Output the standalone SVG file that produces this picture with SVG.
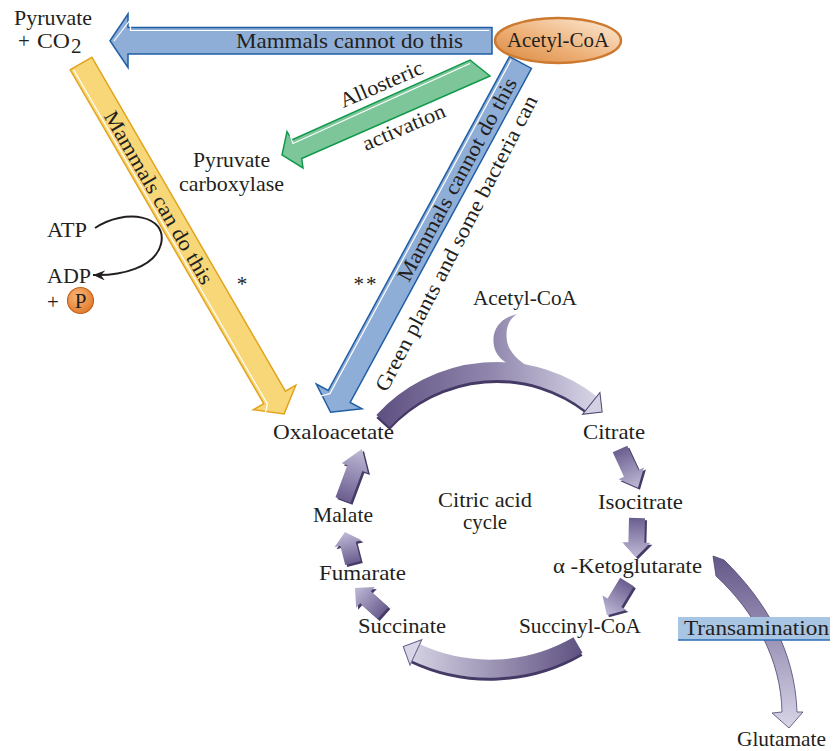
<svg xmlns="http://www.w3.org/2000/svg" width="836" height="751" viewBox="0 0 836 751">
<defs>
<style>
text{font-family:"Liberation Serif","Times New Roman",serif;font-size:21px;fill:#231f20}
.bl{fill:#8eaed7;stroke:#1f5ea5;stroke-width:1.5}
.ye{fill:#f8d779;stroke:#e2a41f;stroke-width:1.5}
.gr{fill:#7dc69a;stroke:#119a4c;stroke-width:1.5}
.hl{fill:none;stroke:#fff;stroke-width:1.2}
.sa{fill:url(#gs)}
.sd{fill:#463b66}
.arc{fill:none;stroke-width:18}
.sh{fill:none;stroke:#453a66;stroke-width:18}
</style>
<linearGradient id="gTop" gradientUnits="userSpaceOnUse" x1="375" y1="0" x2="605" y2="0">
<stop offset="0" stop-color="#5d4f80"/><stop offset="0.5" stop-color="#9086ad"/><stop offset="1" stop-color="#dddbea"/>
</linearGradient>
<linearGradient id="gBot" gradientUnits="userSpaceOnUse" x1="585" y1="0" x2="400" y2="0">
<stop offset="0" stop-color="#5d4f80"/><stop offset="1" stop-color="#dddbea"/>
</linearGradient>
<linearGradient id="gTr" gradientUnits="userSpaceOnUse" x1="0" y1="556" x2="0" y2="728">
<stop offset="0" stop-color="#645789"/><stop offset="1" stop-color="#d8d5e7"/>
</linearGradient>
<linearGradient id="gs" x1="0" y1="0" x2="1" y2="0">
<stop offset="0" stop-color="#6b5e90"/><stop offset="1" stop-color="#c0bad6"/>
</linearGradient>
<linearGradient id="gOr" x1="0" y1="1" x2="1" y2="0">
<stop offset="0" stop-color="#d9873d"/><stop offset="0.45" stop-color="#eeb27a"/><stop offset="1" stop-color="#fdeedc"/>
</linearGradient>
<radialGradient id="gP" cx="0.4" cy="0.35" r="0.7">
<stop offset="0" stop-color="#f9b878"/><stop offset="1" stop-color="#e0782a"/>
</radialGradient>
<path id="sa" d="M0,-8 H25 V-14 L40,0 L25,14 V8 H0 Z"/>
<marker id="ah" viewBox="0 0 12 10" refX="12" refY="5" markerWidth="12" markerHeight="10" markerUnits="userSpaceOnUse" orient="auto">
<path d="M0,0 L12,5 L0,10 L4,5 Z" fill="#231f20"/>
</marker>
</defs>

<g id="connectors">
  <g id="arrow-mammals-cannot">
    <path class="bl" d="M492,27.5 H128 V14 L110,40.75 L128,67.5 V54 H492 Z"/>
    <polyline class="hl" points="489,30.5 130.5,30.5 130.5,19.5 114,41"/>
  </g>
  <g id="arrow-allosteric">
    <path class="gr" d="M470,60 L490,76 L301.7,158.5 L303,168 L282,155 L287,131.5 L291.7,140 Z"/>
    <polyline class="hl" points="470,63.5 293,143.5 290,135.5"/>
  </g>
  <g id="arrow-yellow" transform="translate(81,63.5) rotate(59.9)">
    <path class="ye" d="M0,-12.5 H386 V-24.5 L405,0 L386,24.5 V12.5 H0 Z"/>
    <polyline class="hl" points="2,9.5 388,9.5 395,16"/>
    <text x="155" y="7" text-anchor="middle" textLength="197" lengthAdjust="spacingAndGlyphs">Mammals can do this</text>
  </g>
  <g id="arrow-blue-diag" transform="translate(520.5,62.5) rotate(118.5)">
    <path class="bl" d="M0,-12.5 H380 V-26 L398,0 L380,26 V12.5 H0 Z"/>
    <polyline class="hl" points="2,9.5 382,9.5 389,17"/>
    <text transform="translate(133,0) rotate(180)" y="7" text-anchor="middle" textLength="228" lengthAdjust="spacingAndGlyphs">Mammals cannot do this</text>
  </g>
  <path id="arrow-atp" d="M95,228 C125,208 168,215 161,244 C155,268 120,276 93,275" fill="none" stroke="#231f20" stroke-width="2" marker-end="url(#ah)"/>

  <g id="arc-top">
    <path class="sh" d="M383,424 A154,154 0 0,1 592,407"/>
    <path class="arc" stroke="url(#gTop)" d="M383,421 A154,154 0 0,1 592,404"/>
    <polygon transform="translate(592,404) rotate(38.4)" points="-1,-14 13,0 -1,14" fill="#d3d0e4" stroke="#514670" stroke-width="1"/>
    <path d="M517,314 C500,318 491,330 494,346 C496,356 503,362 516,368 L538,372 C522,364 509,354 507,341 C505,328 509,319 517,314 Z" fill="url(#gTop)"/>
  </g>
  <g id="arc-bottom">
    <path class="sh" d="M578,648 A176,176 0 0,1 415,655"/>
    <path class="arc" stroke="url(#gBot)" d="M578,645 A176,176 0 0,1 415,652"/>
    <polygon transform="translate(415,652) rotate(205)" points="-1,-14 13,0 -1,14" fill="#d8d5e7" stroke="#6a5f8a" stroke-width="1"/>
  </g>
  <g id="step-arrows">
    <use href="#sa" class="sd" transform="translate(345,502) rotate(-69.6) scale(1.36,1)"/>
    <use href="#sa" class="sa" transform="translate(343,500) rotate(-69.6) scale(1.36,1)"/>
    <use href="#sa" class="sd" transform="translate(355,565) rotate(-104.5) scale(0.8,1)"/>
    <use href="#sa" class="sa" transform="translate(353,563) rotate(-104.5) scale(0.8,1)"/>
    <use href="#sa" class="sd" transform="translate(385,615) rotate(-138.2) scale(0.94,1)"/>
    <use href="#sa" class="sa" transform="translate(383,613) rotate(-138.2) scale(0.94,1)"/>
    <use href="#sa" class="sd" transform="translate(622,451) rotate(65.2) scale(1.07,1)"/>
    <use href="#sa" class="sa" transform="translate(620,449) rotate(65.2) scale(1.07,1)"/>
    <use href="#sa" class="sd" transform="translate(639,520) rotate(91.5) scale(0.98,1)"/>
    <use href="#sa" class="sa" transform="translate(637,518) rotate(91.5) scale(0.98,1)"/>
    <use href="#sa" class="sd" transform="translate(629,584) rotate(121.2) scale(0.97,1)"/>
    <use href="#sa" class="sa" transform="translate(627,582) rotate(121.2) scale(0.97,1)"/>
  </g>
  <g id="arrow-transamination">
    <path d="M713,556 L724,560 C765,600 795,650 797,712 L803,712 L789,728 L772,713 L782,712 C781,660 755,612 716,576 Z" fill="url(#gTr)" stroke="#4f4470" stroke-width="0.8"/>
  </g>
</g>

<g id="node-pyruvate-co2">
  <text x="14" y="25" textLength="78" lengthAdjust="spacingAndGlyphs">Pyruvate</text>
  <text x="18" y="48">+</text>
  <text x="37" y="48" textLength="33" lengthAdjust="spacingAndGlyphs">CO</text>
  <text x="71" y="53" font-size="14">2</text>
</g>
<text x="236" y="48" textLength="227" lengthAdjust="spacingAndGlyphs">Mammals cannot do this</text>

<g id="node-acetylcoa-top">
  <ellipse cx="558" cy="40.5" rx="63" ry="22.5" fill="url(#gOr)" stroke="#cd7a30" stroke-width="2.5"/>
  <text x="558" y="47" text-anchor="middle" textLength="102" lengthAdjust="spacingAndGlyphs">Acetyl-CoA</text>
</g>

<g id="label-allosteric">
  <text transform="translate(384,90.5) rotate(-23.3)" text-anchor="middle" textLength="89" lengthAdjust="spacingAndGlyphs">Allosteric</text>
  <text transform="translate(406.5,133.5) rotate(-23.3)" text-anchor="middle" textLength="88" lengthAdjust="spacingAndGlyphs">activation</text>
</g>

<g id="node-pyruvate-carboxylase">
  <text x="231.5" y="167" text-anchor="middle" textLength="77" lengthAdjust="spacingAndGlyphs">Pyruvate</text>
  <text x="231.5" y="191" text-anchor="middle" textLength="105" lengthAdjust="spacingAndGlyphs">carboxylase</text>
</g>

<g id="node-atp"><text x="47" y="237" textLength="40" lengthAdjust="spacingAndGlyphs">ATP</text></g>
<g id="node-adp">
  <text x="47" y="283" textLength="44" lengthAdjust="spacingAndGlyphs">ADP</text>
  <text x="47" y="309">+</text>
  <circle cx="80.5" cy="300.5" r="13" fill="url(#gP)" stroke="#c4621a" stroke-width="1.2"/>
  <text x="80.5" y="307.5" text-anchor="middle" font-size="19">P</text>
</g>

<text x="242" y="291" text-anchor="middle" font-size="18">*</text>
<text x="366" y="291" text-anchor="middle" font-size="18" letter-spacing="2">**</text>

<text transform="translate(462.5,246.5) rotate(-62.7)" text-anchor="middle" textLength="330" lengthAdjust="spacingAndGlyphs">Green plants and some bacteria can</text>

<g id="node-acetylcoa-cycle"><text x="473" y="305" textLength="104" lengthAdjust="spacingAndGlyphs">Acetyl-CoA</text></g>
<g id="node-oxaloacetate"><text x="273" y="439" textLength="121" lengthAdjust="spacingAndGlyphs">Oxaloacetate</text></g>
<g id="node-citrate"><text x="583" y="439" textLength="62" lengthAdjust="spacingAndGlyphs">Citrate</text></g>
<g id="node-isocitrate"><text x="598" y="509" textLength="85" lengthAdjust="spacingAndGlyphs">Isocitrate</text></g>
<g id="node-cycle-label">
  <text x="485" y="507" text-anchor="middle" textLength="94" lengthAdjust="spacingAndGlyphs">Citric acid</text>
  <text x="485" y="529" text-anchor="middle" textLength="44" lengthAdjust="spacingAndGlyphs">cycle</text>
</g>
<g id="node-malate"><text x="313" y="522" textLength="60" lengthAdjust="spacingAndGlyphs">Malate</text></g>
<g id="node-fumarate"><text x="319" y="580" textLength="87" lengthAdjust="spacingAndGlyphs">Fumarate</text></g>
<g id="node-ketoglutarate"><text x="553" y="573" textLength="149" lengthAdjust="spacingAndGlyphs">α -Ketoglutarate</text></g>
<g id="node-succinate"><text x="358" y="633" textLength="88" lengthAdjust="spacingAndGlyphs">Succinate</text></g>
<g id="node-succinylcoa"><text x="519" y="633" textLength="122" lengthAdjust="spacingAndGlyphs">Succinyl-CoA</text></g>
<g id="label-transamination">
  <rect x="678" y="617" width="152" height="23" fill="#a9c5e4"/>
  <line x1="678" y1="640" x2="830" y2="640" stroke="#2b6db3" stroke-width="1.5"/>
  <text x="684" y="635" textLength="145" lengthAdjust="spacingAndGlyphs">Transamination</text>
</g>
<g id="node-glutamate"><text x="737" y="746" textLength="89" lengthAdjust="spacingAndGlyphs">Glutamate</text></g>
</svg>
